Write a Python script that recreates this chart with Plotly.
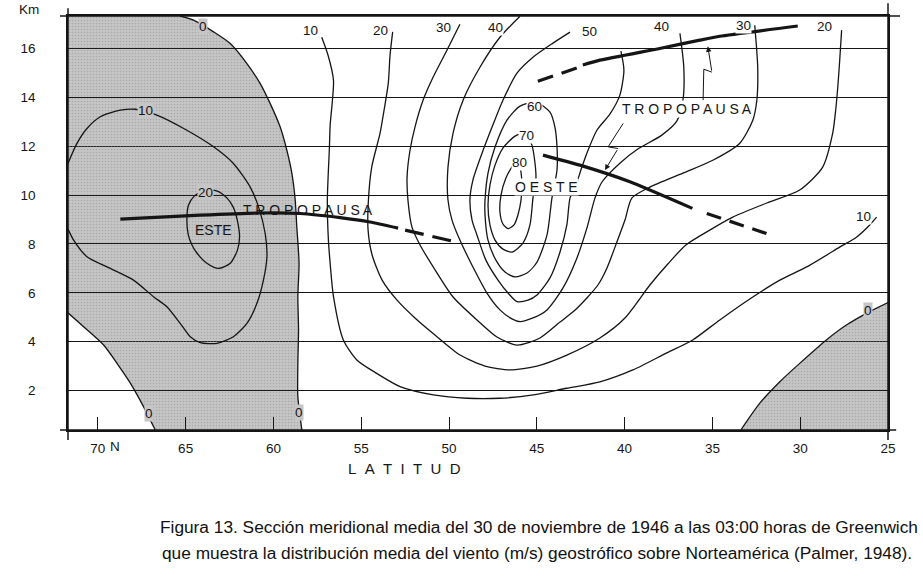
import plotly.graph_objects as go

# ---------------- axes ----------------
lat_ticks = [70, 65, 60, 55, 50, 45, 40, 35, 30, 25]
lat_tick_text = ["70", "65", "60", "55", "50", "45", "40", "35", "30", "25"]
km_ticks = [2, 4, 6, 8, 10, 12, 14, 16]
km_tick_text = ["2", "4", "6", "8", "10", "12", "14", "16"]
LAT_RANGE = [71.7, 25.0]
KM_RANGE = [0.38, 17.34]

# ---------------- 0 m/s isotachs (limits of easterlies, shaded) ----------------
c0_west_lat = [65.31, 64.55, 63.41, 62.46, 61.51, 60.76, 60.19, 59.62, 59.24, 58.95, 58.76, 58.67, 58.54, 58.61, 58.57, 58.61, 58.61, 58.38]
c0_west_km = [17.34, 17.17, 16.69, 16.21, 15.39, 14.58, 13.76, 12.80, 11.85, 10.89, 9.80, 8.71, 7.21, 5.84, 4.48, 3.11, 1.75, 0.38]
c0_corner_lat = [71.70, 70.81, 69.67, 68.89, 68.15, 67.40, 66.73]
c0_corner_km = [5.18, 4.61, 3.86, 3.09, 2.30, 1.34, 0.38]
c0_south_lat = [33.38, 32.30, 31.16, 30.03, 28.51, 27.37, 26.23, 25.00]
c0_south_km = [0.38, 1.48, 2.36, 3.11, 4.07, 4.68, 5.16, 5.60]

# ---------------- easterly isotachs ----------------
c10e_lat = [71.70, 71.19, 70.62, 69.86, 68.72, 67.87, 66.64, 64.93, 63.41, 62.28, 61.33, 60.85, 60.47, 60.37, 60.57, 60.94, 61.51, 62.28, 63.22, 64.17, 64.74, 65.31, 66.07, 66.83, 67.97, 69.29, 70.62, 71.38, 71.70]
c10e_km = [11.30, 12.12, 12.73, 13.21, 13.48, 13.52, 13.28, 12.66, 11.98, 11.30, 10.34, 9.52, 8.43, 7.48, 6.52, 5.57, 4.75, 4.20, 3.93, 3.96, 4.20, 4.75, 5.43, 5.84, 6.52, 7.00, 7.48, 8.16, 8.61]
c20e_lat = [63.89, 64.51, 64.84, 64.93, 64.85, 64.64, 64.36, 63.79, 63.13, 62.46, 62.05, 61.93, 62.06, 62.29, 62.64, 63.20, 63.89]
c20e_km = [10.21, 9.96, 9.59, 8.98, 8.37, 7.96, 7.63, 7.21, 7.00, 7.21, 7.75, 8.30, 8.98, 9.51, 9.88, 10.17, 10.21]

# ---------------- westerly isotachs ----------------
c10_lat = [57.25, 56.89, 56.58, 56.64, 56.77, 56.81, 56.93, 56.87, 56.77, 56.58, 56.02, 55.25, 54.12, 52.79, 50.89, 48.99, 47.10, 45.20, 43.30, 41.41, 39.53, 37.60, 36.12, 34.58, 32.70, 31.16, 29.63, 27.75, 26.78, 26.04, 25.65]
c10_km = [16.47, 15.73, 14.71, 13.89, 12.87, 11.98, 9.80, 8.16, 7.21, 5.84, 4.07, 3.25, 2.70, 2.16, 1.82, 1.68, 1.68, 1.82, 2.09, 2.35, 2.84, 3.54, 4.07, 4.89, 5.83, 6.52, 7.06, 7.87, 8.29, 8.78, 9.10]
c20_lat = [53.21, 53.36, 53.46, 53.70, 53.93, 54.40, 54.59, 54.61, 54.38, 53.81, 52.96, 51.94, 50.80, 49.37, 47.95, 46.53, 44.99, 43.29, 41.41, 39.98, 38.56, 37.54, 36.51, 35.15, 33.84, 31.90, 30.03, 28.72, 28.15, 27.98, 27.86, 27.75, 27.64]
c20_km = [16.69, 15.73, 14.58, 13.48, 12.53, 11.16, 9.80, 8.57, 7.55, 6.52, 5.70, 4.97, 4.27, 3.45, 3.00, 2.84, 3.00, 3.45, 4.15, 4.97, 6.32, 7.18, 7.96, 8.57, 9.10, 9.68, 10.21, 11.15, 12.54, 13.48, 14.42, 15.53, 16.76]
c30_lat = [49.38, 50.12, 50.91, 51.48, 51.94, 52.22, 52.39, 52.34, 52.11, 51.65, 50.68, 49.77, 48.41, 47.27, 46.13, 44.82, 43.68, 42.95, 42.15, 41.52, 41.01, 40.44, 39.98, 39.59, 38.56, 36.68, 34.98, 33.44, 32.70, 32.47, 32.42, 32.59]
c30_km = [17.00, 15.94, 14.83, 13.89, 12.79, 11.85, 10.74, 9.80, 8.69, 7.96, 6.81, 5.83, 4.89, 4.19, 3.86, 4.15, 4.80, 5.21, 5.79, 6.32, 7.01, 8.08, 8.98, 9.88, 10.33, 10.90, 11.43, 12.13, 13.07, 13.89, 15.24, 16.96]
c40_lat = [45.96, 47.10, 48.24, 49.20, 49.77, 50.06, 50.06, 49.83, 49.38, 48.64, 47.84, 47.10, 46.42, 45.96, 45.22, 44.42, 43.51, 42.72, 42.15, 41.69, 41.29, 40.27, 39.25, 37.88, 37.03, 36.68, 36.63, 36.85]
c40_km = [17.33, 16.47, 15.24, 13.89, 12.54, 11.15, 9.80, 8.98, 8.16, 7.06, 5.99, 5.30, 4.93, 4.82, 4.97, 5.30, 6.20, 7.42, 8.65, 9.88, 10.54, 11.31, 11.89, 12.46, 13.03, 13.89, 15.24, 16.63]
c50_lat = [43.11, 44.08, 45.22, 46.13, 46.93, 47.55, 48.12, 48.64, 48.81, 48.69, 48.41, 47.90, 47.21, 46.64, 46.13, 45.50, 44.99, 44.25, 43.68, 43.29, 43.11, 42.77, 42.49, 42.15, 41.58, 40.84, 40.27, 40.04, 40.21]
c50_km = [16.68, 16.23, 15.65, 15.00, 13.89, 12.79, 11.72, 10.62, 9.80, 8.98, 8.37, 7.34, 6.52, 5.99, 5.64, 5.70, 5.91, 6.61, 7.67, 8.78, 9.88, 10.41, 11.03, 11.72, 12.66, 13.32, 14.10, 15.12, 15.90]
c60_lat = [45.05, 44.25, 43.97, 43.85, 43.85, 44.14, 44.42, 44.99, 45.56, 46.24, 46.81, 47.33, 47.78, 47.95, 47.95, 47.78, 47.38, 46.70, 45.96, 45.05]
c60_km = [13.81, 13.40, 12.79, 11.97, 11.03, 9.88, 8.37, 7.26, 6.81, 6.65, 6.85, 7.34, 8.16, 9.19, 9.80, 10.90, 11.97, 13.07, 13.65, 13.81]
c70_lat = [45.68, 45.28, 45.11, 45.05, 45.22, 45.39, 45.79, 46.42, 46.93, 47.38, 47.67, 47.78, 47.67, 47.38, 46.93, 46.24, 45.68]
c70_km = [12.54, 12.05, 11.35, 10.70, 9.88, 8.78, 8.04, 7.67, 7.79, 8.16, 8.78, 9.59, 10.41, 11.23, 11.93, 12.42, 12.54]
c80_lat = [46.08, 45.90, 45.85, 45.90, 46.08, 46.30, 46.64, 46.93, 47.10, 47.04, 46.76, 46.42, 46.08]
c80_km = [11.44, 10.94, 10.41, 9.80, 9.18, 8.78, 8.63, 8.82, 9.31, 10.00, 10.70, 11.15, 11.44]

# ---------------- tropopauses ----------------
trop_w_lat = [68.72, 64.17, 60.76, 58.48, 56.20, 54.50, 52.90]
trop_w_km = [9.02, 9.18, 9.27, 9.25, 9.08, 8.90, 8.65]
trop_w_dash_lat = [52.50, 49.83]
trop_w_dash_km = [8.57, 8.12]
trop_n_dash_lat = [44.94, 42.72]
trop_n_dash_km = [14.67, 15.21]
trop_n_lat = [42.38, 41.41, 38.00, 35.72, 34.58, 30.14]
trop_n_km = [15.33, 15.53, 16.01, 16.35, 16.51, 16.93]
trop_s_lat = [44.65, 42.55, 39.70, 36.14]
trop_s_km = [11.64, 11.23, 10.55, 9.46]
trop_s_dash_lat = [35.32, 31.85]
trop_s_dash_km = [9.25, 8.41]

# zig-zag pointers from the label to the tropopauses (last point = arrow tip)
arrow_n_lat = [35.53, 35.49, 35.03, 35.26]
arrow_n_km = [13.89, 15.16, 15.04, 16.10]
arrow_s_lat = [40.08, 40.94, 40.37, 41.12]
arrow_s_km = [12.94, 11.98, 11.91, 11.03]

# ---------------- in-plot labels ----------------
gray_label_text = ["0", "10", "20", "0", "0", "0"]
gray_label_lat = [64.04, 67.26, 63.85, 67.06, 58.52, 26.16]
gray_label_km = [16.92, 13.48, 10.10, 1.07, 1.09, 5.26]
white_label_text = ["10", "20", "30", "40", "50", "60", "70", "80", "40", "30", "20", "10"]
white_label_lat = [57.91, 53.93, 50.33, 47.38, 41.98, 45.11, 45.58, 45.96, 37.90, 33.25, 28.60, 26.42]
white_label_km = [16.76, 16.76, 16.87, 16.87, 16.69, 13.62, 12.46, 11.34, 16.92, 16.96, 16.89, 9.14]
word_text = ["ESTE", "T R O P O P A U S A", "O E S T E", "T R O P O P A U S A"]
word_lat = [63.41, 58.05, 44.44, 36.43]
word_km = [8.57, 9.39, 10.34, 13.51]
word_bg = [None, None, "white", "white"]

caption1 = "Figura 13. Sección meridional media del 30 de noviembre de 1946 a las 03:00 horas de Greenwich"
caption2 = "que muestra la distribución media del viento (m/s) geostrófico sobre Norteamérica (Palmer, 1948)."

# ---------------- styling ----------------
FONT = "Liberation Sans, Arial, sans-serif"
INK = "#151515"
GRAY = "#c6c6c6"

fig = go.Figure()


def path_from(xs, ys):
    return "M " + " L ".join(f"{x},{y}" for x, y in zip(xs, ys)) + " Z"


# shaded easterly regions (solid tone below the grid lines, stipple on top)
west_x = [LAT_RANGE[0]] + c0_west_lat + c0_corner_lat[::-1]
west_y = [KM_RANGE[1]] + c0_west_km + c0_corner_km[::-1]
south_x = c0_south_lat + [LAT_RANGE[1]]
south_y = c0_south_km + [KM_RANGE[0]]
for xs, ys in [(west_x, west_y), (south_x, south_y)]:
    fig.add_shape(type="path", path=path_from(xs, ys), xref="x", yref="y",
                  fillcolor=GRAY, line=dict(width=0), layer="below")
    fig.add_trace(go.Scatter(x=xs + [xs[0]], y=ys + [ys[0]], mode="lines", fill="toself",
                             fillcolor="rgba(0,0,0,0)", line=dict(width=0),
                             fillpattern=dict(shape=".", fgcolor="#8c8c8c",
                                              bgcolor="rgba(0,0,0,0)", size=3, solidity=0.25),
                             hoverinfo="skip", showlegend=False))

# isotachs
contours = [
    (c0_west_lat, c0_west_km), (c0_corner_lat, c0_corner_km), (c0_south_lat, c0_south_km),
    (c10e_lat, c10e_km), (c20e_lat, c20e_km),
    (c10_lat, c10_km), (c20_lat, c20_km), (c30_lat, c30_km), (c40_lat, c40_km),
    (c50_lat, c50_km), (c60_lat, c60_km), (c70_lat, c70_km), (c80_lat, c80_km),
]
for xs, ys in contours:
    fig.add_trace(go.Scatter(x=xs, y=ys, mode="lines",
                             line=dict(color=INK, width=1.3, shape="spline", smoothing=0.7),
                             hoverinfo="skip", showlegend=False))

# tropopauses
for xs, ys, dash in [
    (trop_w_lat, trop_w_km, "solid"), (trop_w_dash_lat, trop_w_dash_km, "19px,9px"),
    (trop_n_dash_lat, trop_n_dash_km, "16px,9px"), (trop_n_lat, trop_n_km, "solid"),
    (trop_s_lat, trop_s_km, "solid"), (trop_s_dash_lat, trop_s_dash_km, "15px,9px"),
]:
    fig.add_trace(go.Scatter(x=xs, y=ys, mode="lines",
                             line=dict(color=INK, width=3.2, dash=dash, shape="spline", smoothing=0.5),
                             hoverinfo="skip", showlegend=False))

# zig-zag pointers
for xs, ys in [(arrow_n_lat, arrow_n_km), (arrow_s_lat, arrow_s_km)]:
    fig.add_trace(go.Scatter(x=xs[:-1], y=ys[:-1], mode="lines",
                             line=dict(color=INK, width=1.0),
                             hoverinfo="skip", showlegend=False))
    fig.add_annotation(x=xs[-1], y=ys[-1], ax=xs[-2], ay=ys[-2], xref="x", yref="y",
                       axref="x", ayref="y", text="", showarrow=True, arrowhead=2,
                       arrowsize=1.1, arrowwidth=1.0, arrowcolor=INK)

lab_font = dict(family=FONT, size=13.5, color=INK)
for t, x, y in zip(gray_label_text, gray_label_lat, gray_label_km):
    fig.add_annotation(x=x, y=y, text=t, showarrow=False, font=lab_font,
                       xanchor="center", yanchor="middle", bgcolor=GRAY, borderpad=0)
for t, x, y in zip(white_label_text, white_label_lat, white_label_km):
    fig.add_annotation(x=x, y=y, text=t, showarrow=False, font=lab_font,
                       xanchor="center", yanchor="middle", bgcolor="white", borderpad=0)
for t, x, y, bg in zip(word_text, word_lat, word_km, word_bg):
    fig.add_annotation(x=x, y=y, text=t, showarrow=False,
                       font=dict(family=FONT, size=14, color=INK),
                       xanchor="center", yanchor="middle",
                       bgcolor=bg if bg else "rgba(0,0,0,0)", borderpad=0)


def paper_text(x, y, text, size, color=INK):
    fig.add_annotation(x=x, y=y, xref="paper", yref="paper", text=text,
                       xanchor="center", yanchor="middle", showarrow=False,
                       font=dict(family=FONT, size=size, color=color))


# axis titles and caption (paper positions)
paper_text(-0.0476, 1.0145, "Km", 13.5)
paper_text(0.0573, -0.041, "N", 13.5)
paper_text(0.4098, -0.0942, "\u00a0\u00a0".join("LATITUD"), 15)
paper_text(0.5738, -0.2343, caption1, 17.3, "#111")
paper_text(0.5720, -0.2971, caption2, 17.3, "#111")

# frame extensions (corner overhangs of the hand-drawn frame)
frame = dict(color=INK, width=1.5)
fig.add_shape(type="line", xref="paper", yref="paper", x0=0, x1=0, y0=-0.024, y1=1.019, line=frame)
fig.add_shape(type="line", xref="paper", yref="paper", x0=1, x1=1, y0=-0.024, y1=1.031, line=frame)
fig.add_shape(type="line", xref="paper", yref="paper", x0=-0.0098, x1=1.0146, y0=1, y1=1, line=frame)
fig.add_shape(type="line", xref="paper", yref="paper", x0=-0.0098, x1=1.01, y0=0, y1=0, line=frame)

fig.update_xaxes(range=LAT_RANGE, tickvals=lat_ticks, ticktext=lat_tick_text,
                 ticks="inside", ticklen=13, tickwidth=1.3, tickcolor=INK,
                 showline=True, mirror=True, linecolor=INK, linewidth=1.5,
                 showgrid=False, zeroline=False, ticklabelstandoff=5,
                 tickfont=dict(family=FONT, size=13.5, color=INK))
fig.update_yaxes(range=KM_RANGE, tickvals=km_ticks, ticktext=km_tick_text,
                 ticks="", showline=True, mirror=True, linecolor=INK, linewidth=1.5,
                 showgrid=True, gridcolor=INK, gridwidth=1.3, zeroline=False,
                 ticklabelstandoff=28,
                 tickfont=dict(family=FONT, size=13.5, color=INK))

fig.update_layout(width=923, height=580,
                  margin=dict(l=68, r=35, t=16, b=150),
                  paper_bgcolor="white", plot_bgcolor="white",
                  font=dict(family=FONT, color=INK), showlegend=False)

fig.write_html("out.html", config={"displayModeBar": False},
               post_script="document.body.style.margin='0px';")
